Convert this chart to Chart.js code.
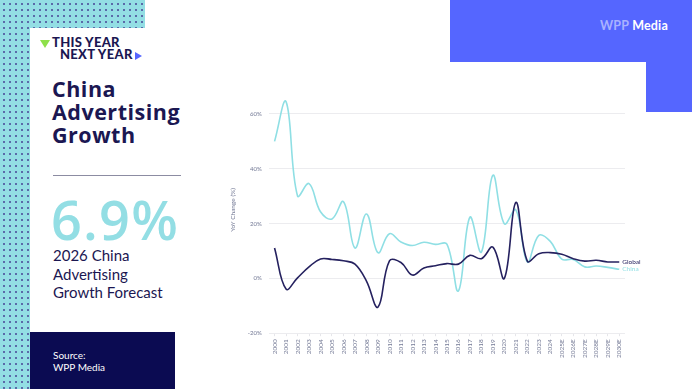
<!DOCTYPE html>
<html>
<head>
<meta charset="utf-8">
<script src="https://cdn.jsdelivr.net/npm/chart.js@4"></script>
<style>
  html, body { margin: 0; padding: 0; }
  body { width: 692px; height: 389px; overflow: hidden; background: #fff; position: relative; font-family: "Lato", sans-serif; color: #1b1752; }
  .dots { position: absolute; background-color: #93dee4; background-image: radial-gradient(#5a6aa8 0.8px, transparent 0.9px); background-size: 6px 6px; background-position: 1px 1px; }
  .blue { position: absolute; background: #5566ff; }
  .abs { position: absolute; white-space: nowrap; }
  #chart-box { position: absolute; left: 221px; top: 76px; width: 436px; height: 285px; }
</style>
</head>
<body>
<div class="dots" style="left:0;top:0;width:145px;height:28px"></div>
<div class="dots" style="left:0;top:0;width:30px;height:389px"></div>
<div class="blue" style="left:450px;top:0;width:242px;height:62px"></div>
<div class="blue" style="left:646px;top:62px;width:46px;height:50px"></div>
<div class="abs" style="left:600px;top:18px;font-size:12.5px;font-weight:700;letter-spacing:0.2px"><span style="color:#aab2ff">WPP</span> <span style="color:#fff">Media</span></div>

<!-- logo -->
<div class="abs" style="left:40px;top:40px;width:0;height:0;border-left:5px solid transparent;border-right:5px solid transparent;border-top:8px solid #8ee04a"></div>
<div class="abs" style="left:52px;top:35.5px;font-size:13px;font-weight:900;line-height:12px;letter-spacing:0.3px">THIS YEAR</div>
<div class="abs" style="left:60px;top:47.5px;font-size:13px;font-weight:900;line-height:12px;letter-spacing:0.3px">NEXT YEAR</div>
<div class="abs" style="left:135px;top:52px;width:0;height:0;border-top:4px solid transparent;border-bottom:4px solid transparent;border-left:7px solid #5566ff"></div>

<div class="abs" style="left:52px;top:77px;font-family:'Open Sans';font-size:21.5px;font-weight:700;line-height:23px;letter-spacing:0.5px">China<br>Advertising<br>Growth</div>
<div class="abs" style="left:53px;top:175px;width:128px;height:1px;background:#8c8ca2"></div>
<div class="abs" style="left:51px;top:189px;font-family:'Open Sans';font-size:54px;font-weight:600;color:#93dee4;line-height:60px;letter-spacing:1.2px">6.9%</div>
<div class="abs" style="left:53px;top:246px;font-size:15px;line-height:18.5px">2026 China<br>Advertising<br>Growth Forecast</div>

<div class="abs" style="left:30px;top:332px;width:145px;height:57px;background:#0b0b52"></div>
<div class="abs" style="left:53px;top:349px;font-size:10px;line-height:12px;color:#fff">Source:<br>WPP Media</div>

<div id="chart-box"><canvas id="chart"></canvas></div>

<script>
const years = ["2000","2001","2002","2003","2004","2005","2006","2007","2008","2009","2010",
  "2011","2012","2013","2014","2015","2016","2017","2018","2019","2020","2021","2022","2023",
  "2024","2025E","2026E","2027E","2028E","2029E","2030E"];

const chinaGrowth = [50, 64.5, 30.1, 34.6, 24.3, 21.7, 28, 11.1, 23.5, 9.4, 16.3,
  13.3, 12, 13.2, 12.4, 12.5, -4.6, 22.3, 9.6, 37.6, 19.9, 25, 6, 15.7,
  13.5, 7, 6.9, 4.2, 4.5, 4, 3.3];

const globalGrowth = [11.1, -3.9, 0.2, 4.2, 7.1, 6.9, 6.4, 5.2, -1, -10.5, 6.4,
  5.8, 1.2, 3.8, 4.6, 5.4, 5.2, 8.4, 7.2, 11.4, 0, 27.7, 6.3, 9,
  9.4, 8.8, 7.2, 6.3, 6.6, 6, 6];

const yTicks = [-20, 0, 20, 40, 60];

const navy = "#25215f";
const teal = "#8fdfe4";
const axisGrey = "#737995";

// labels at the end of each line
const endLabels = {
  id: "endLabels",
  afterDatasetsDraw(chart) {
    const ctx = chart.ctx;
    ctx.save();
    ctx.font = "6.5px Lato";
    ctx.textBaseline = "middle";
    chart.data.datasets.forEach((ds, i) => {
      const pts = chart.getDatasetMeta(i).data;
      const last = pts[pts.length - 1];
      ctx.fillStyle = ds.borderColor;
      ctx.fillText(ds.label, last.x + 3, last.y);
    });
    ctx.restore();
  }
};

const ctx = document.getElementById("chart").getContext("2d");
new Chart(ctx, {
  type: 'line',
  data: {
    labels: years,
    datasets: [
      { label: 'Global', data: globalGrowth, borderColor: navy, borderWidth: 1.6, pointRadius: 0, tension: 0.4, clip: false },
      { label: 'China', data: chinaGrowth, borderColor: teal, borderWidth: 1.6, pointRadius: 0, tension: 0.4, clip: false }
    ]
  },
  options: {
    responsive: true,
    maintainAspectRatio: false,
    animation: false,
    layout: { padding: { top: 10, right: 32, left: 8, bottom: 0 } },
    plugins: {
      legend: { display: false },
      tooltip: { enabled: false }
    },
    scales: {
      x: {
        offset: true,
        grid: { drawOnChartArea: false, drawTicks: true, tickLength: 3, color: "#e6e6ea" },
        border: { display: false },
        ticks: { autoSkip: false, maxRotation: 90, minRotation: 90, padding: 3, color: axisGrey, font: { size: 6.5, family: "Lato" } }
      },
      y: {
        min: -20,
        max: 70,
        afterBuildTicks: s => { s.ticks = yTicks.map(v => ({ value: v })); },
        grid: { color: "#ececef", drawTicks: false },
        border: { display: false },
        ticks: { padding: 7, color: axisGrey, font: { size: 6, family: "Lato" }, callback: v => v + "%" },
        title: { display: true, text: "YoY Change (%)", color: axisGrey, font: { size: 6.5, family: "Lato" }, padding: { top: 0, bottom: 4 } }
      }
    }
  },
  plugins: [endLabels]
});
</script>
</body>
</html>
